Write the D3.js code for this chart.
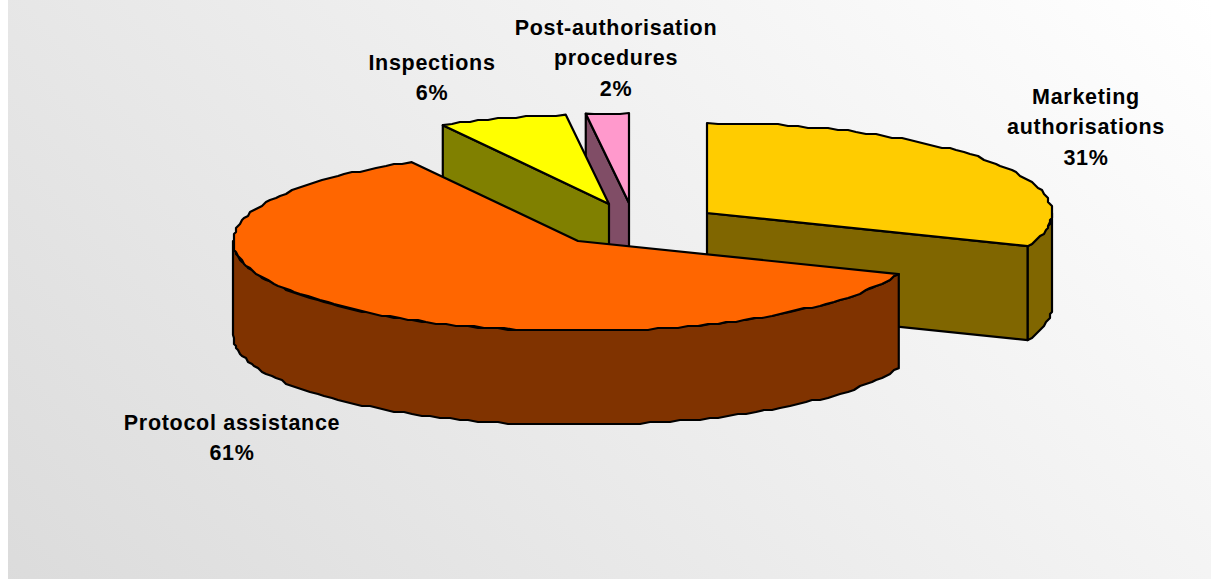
<!DOCTYPE html>
<html>
<head>
<meta charset="utf-8">
<script src="https://cdn.jsdelivr.net/npm/d3@7"></script>
<style>
html,body{margin:0;padding:0;background:#fff;overflow:hidden}
svg{display:block}
text{font-family:"Liberation Sans",Arial,sans-serif;font-weight:bold;font-size:21.5px;fill:#000;text-anchor:middle;letter-spacing:.7px}
</style>
</head>
<body>
<svg id="chart" width="1211" height="579"></svg>
<script>
const categories = ["Marketing authorisations", "Protocol assistance", "Inspections", "Post-authorisation procedures"];
const values = [31, 61, 6, 2];
const labelLines = [["Marketing", "authorisations"], ["Protocol assistance"], ["Inspections"], ["Post-authorisation", "procedures"]];
const topColors = ["#FFCC00", "#FF6600", "#FFFF00", "#FF99CC"];
const wallColors = ["#806600", "#803300", "#808000", "#804D66"];

// layout (independent of the data)
const W = 1211, H = 579;
const RX = 345, RY = 90, DEPTH = 94;
const apexes = [[707, 213], [578, 241], [609, 204], [629, 203]];
const labelAnchors = [[1086, 104], [232, 430], [432, 70], [616, 35]];
const LINE_H = 30.3;
const drawOrder = [3, 2, 0, 1];
const RIM_GRID = 2; // the reference's curved edges are stepped

const svg = d3.select("#chart");
const defs = svg.append("defs");
const grad = defs.append("linearGradient").attr("id", "bg")
  .attr("gradientUnits", "userSpaceOnUse")
  .attr("x1", 1211).attr("y1", 0).attr("x2", 246).attr("y2", 910);
grad.append("stop").attr("offset", 0).attr("stop-color", "#ffffff");
grad.append("stop").attr("offset", 1).attr("stop-color", "#dadada");
svg.append("rect").attr("x", 8).attr("y", 0).attr("width", W - 8).attr("height", H).attr("fill", "url(#bg)");

const pie = d3.pie().sort(null).startAngle(0).endAngle(2 * Math.PI);
const arcs = pie(values);
const xs = d3.scaleLinear().domain([0, 1]).range([0, RX]);
const ys = d3.scaleLinear().domain([0, 1]).range([0, RY]);
const line = d3.line();
const snap = v => Math.round(v / RIM_GRID) * RIM_GRID;

function rim(c, a0, a1, dy) {
  const n = Math.max(1, Math.ceil((a1 - a0) / 0.03));
  return d3.range(n + 1).map(i => {
    const a = a0 + (a1 - a0) * i / n;
    const x = c[0] + xs(Math.sin(a)), y = c[1] - ys(Math.cos(a));
    return (i === 0 || i === n) ? [x, y + dy] : [snap(x), snap(y) + dy];
  });
}

const g = svg.append("g").attr("stroke", "#000").attr("stroke-width", 2.2).attr("stroke-linejoin", "round");
drawOrder.forEach(i => {
  const d = arcs[i], c = apexes[i];
  const a0 = d.startAngle, a1 = d.endAngle;
  const piece = g.append("g").attr("class", "slice").attr("data-name", categories[i]);
  const wall = pts => piece.append("path").attr("d", line(pts) + "Z").attr("fill", wallColors[i]);
  const face = a => {
    const p = rim(c, a, a, 0)[0];
    wall([c, p, [p[0], p[1] + DEPTH], [c[0], c[1] + DEPTH]]);
  };
  if (a0 > Math.PI) face(a0);
  if (a1 > 0 && a1 < Math.PI) face(a1);
  const lo = Math.max(a0, Math.PI / 2), hi = Math.min(a1, 1.5 * Math.PI);
  if (hi > lo) {
    const top = rim(c, lo, hi, 0), bottom = rim(c, lo, hi, DEPTH).reverse();
    wall(top.concat(bottom));
  }
  piece.append("path").attr("d", line([c].concat(rim(c, a0, a1, 0))) + "Z").attr("fill", topColors[i]);
});

const labels = svg.append("g");
values.forEach((v, i) => {
  const lines = labelLines[i].concat([v + "%"]);
  const t = labels.append("text").attr("x", labelAnchors[i][0]).attr("y", labelAnchors[i][1]);
  lines.forEach((s, k) => t.append("tspan").attr("x", labelAnchors[i][0]).attr("dy", k ? LINE_H : 0).text(s));
});
</script>
</body>
</html>
